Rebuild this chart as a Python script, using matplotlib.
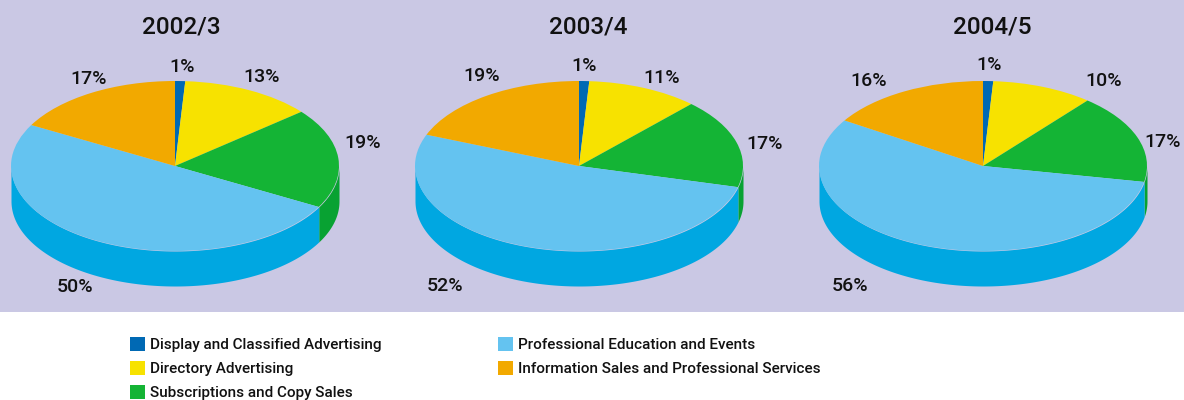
import numpy as np
import matplotlib
matplotlib.use("Agg")
import matplotlib.pyplot as plt
from matplotlib.patches import Rectangle

# Revenue share per year, clockwise from twelve o'clock
years = ["2002/3", "2003/4", "2004/5"]
display_ads = [1, 1, 1]
directory_ads = [13, 11, 10]
subscriptions = [19, 17, 17]
education = [50, 52, 56]
information = [17, 19, 16]

categories = [
    "Display and Classified Advertising",
    "Directory Advertising",
    "Subscriptions and Copy Sales",
    "Professional Education and Events",
    "Information Sales and Professional Services",
]

W, H = 1184, 400
BAND = "#cac8e4"
TOP_COLORS = ["#0069b4", "#f7e200", "#14b435", "#64c3f0", "#f2a900"]
SIDE_COLORS = ["#00559a", "#d8c600", "#08a232", "#00a7e1", "#d89600"]

CENTERS_X = [175, 579, 983]
CENTER_Y = 166
RX, RY, DEPTH = 164, 85, 35

FONT = "Roboto"

# label centres in pixels, same order as the series
LABEL_POS = [
    [(182, 67), (262, 77), (363, 143), (75, 287), (89, 79)],
    [(584, 66), (662, 78), (765, 144), (445, 286), (482, 76)],
    [(989, 65), (1104, 81), (1163, 142), (850, 286), (869, 81)],
]
TITLE_POS = [(181, 27), (588, 27), (992, 27)]


def draw_pie(fig, cx, values):
    # one axes per pie; unit circle squashed by turning the aspect off
    left = (cx - RX) / W
    bottom = (H - (CENTER_Y + RY + DEPTH)) / H
    ax = fig.add_axes([left, bottom, 2 * RX / W, (2 * RY + DEPTH) / H])
    ax.patch.set_alpha(0)
    d = DEPTH / RY

    # side wall, only the part of each slice facing the viewer
    edges = 90 - np.cumsum([0] + list(values)) * 3.6
    for i in range(len(values)):
        start, end = edges[i + 1], edges[i]
        t = np.radians(np.linspace(start, end, 200))
        t = t[np.sin(t) <= 0]
        if len(t) == 0:
            continue
        x, y = np.cos(t), np.sin(t)
        ax.fill_between(x, y - d, y, color=SIDE_COLORS[i], linewidth=0)

    ax.pie(values, colors=TOP_COLORS, startangle=90, counterclock=False,
           radius=1, wedgeprops={"linewidth": 0})
    ax.set_aspect("auto")
    ax.set_xlim(-1, 1)
    ax.set_ylim(-1 - d, 1)
    ax.axis("off")


fig = plt.figure(figsize=(W / 100, H / 100), dpi=100, facecolor="white")

# background layer in pixel coordinates for the band, legend and text
bg = fig.add_axes([0, 0, 1, 1], zorder=0)
bg.set_xlim(0, W)
bg.set_ylim(H, 0)
bg.axis("off")
bg.add_patch(Rectangle((0, 0), W, 312, color=BAND, linewidth=0))

series = np.array([display_ads, directory_ads, subscriptions, education, information])

for k, year in enumerate(years):
    values = series[:, k]
    draw_pie(fig, CENTERS_X[k], values)
    bg.text(*TITLE_POS[k], year, ha="center", va="center", fontsize=17.5,
            family=FONT, fontweight="medium", color="#111111")

# labels go on a top layer so they sit above the pies
top = fig.add_axes([0, 0, 1, 1], zorder=5)
top.set_xlim(0, W)
top.set_ylim(H, 0)
top.axis("off")
top.patch.set_alpha(0)
for k in range(len(years)):
    for v, (x, y) in zip(series[:, k], LABEL_POS[k]):
        top.text(x, y, f"{v}%", ha="center", va="center", fontsize=14,
                 family=FONT, fontweight="medium", color="#111111")

# legend, two hand placed columns
legend_slots = [(130, 344), (130, 368), (130, 392), (498, 344), (498, 368)]
for name, color, (x, y) in zip(categories, TOP_COLORS, legend_slots):
    bg.add_patch(Rectangle((x, y - 7), 15, 14, color=color, linewidth=0))
    bg.text(x + 20, y + 1, name, ha="left", va="center", fontsize=11,
            family=FONT, fontweight="medium", color="#111111")

fig.savefig("out.png", dpi=100)
